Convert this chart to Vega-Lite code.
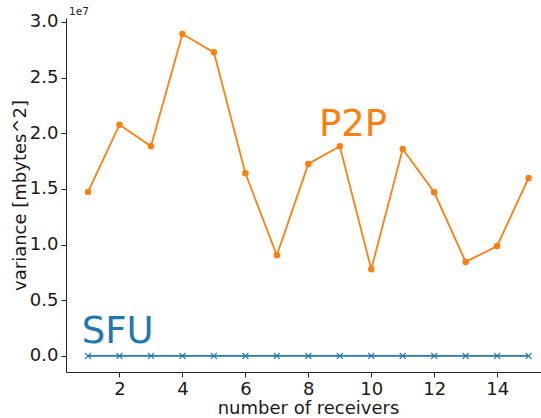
{
  "$schema": "https://vega.github.io/schema/vega-lite/v6.json",
  "width": 475,
  "height": 354,
  "autosize": {"type": "none"},
  "padding": {"left": 66, "top": 18, "right": 0, "bottom": 46},
  "background": "white",
  "config": {
    "view": {"stroke": null},
    "font": "DejaVu Sans",
    "axis": {
      "grid": false,
      "domainColor": "#222222",
      "domainWidth": 1,
      "tickColor": "#222222",
      "tickWidth": 1,
      "tickSize": 5,
      "labelColor": "#1a1a1a",
      "labelFont": "DejaVu Sans",
      "labelFontSize": 18,
      "labelPadding": 3,
      "titleFont": "DejaVu Sans",
      "titleFontSize": 18,
      "titleFontWeight": "normal",
      "titleColor": "#1a1a1a"
    }
  },
  "datasets": {
    "series": [
      {"n": 1, "variance": 14720000, "series": "P2P"},
      {"n": 2, "variance": 20760000, "series": "P2P"},
      {"n": 3, "variance": 18820000, "series": "P2P"},
      {"n": 4, "variance": 28900000, "series": "P2P"},
      {"n": 5, "variance": 27260000, "series": "P2P"},
      {"n": 6, "variance": 16400000, "series": "P2P"},
      {"n": 7, "variance": 9040000, "series": "P2P"},
      {"n": 8, "variance": 17240000, "series": "P2P"},
      {"n": 9, "variance": 18820000, "series": "P2P"},
      {"n": 10, "variance": 7780000, "series": "P2P"},
      {"n": 11, "variance": 18580000, "series": "P2P"},
      {"n": 12, "variance": 14690000, "series": "P2P"},
      {"n": 13, "variance": 8440000, "series": "P2P"},
      {"n": 14, "variance": 9870000, "series": "P2P"},
      {"n": 15, "variance": 15980000, "series": "P2P"},
      {"n": 1, "variance": 2000, "series": "SFU"},
      {"n": 2, "variance": 2000, "series": "SFU"},
      {"n": 3, "variance": 2000, "series": "SFU"},
      {"n": 4, "variance": 2000, "series": "SFU"},
      {"n": 5, "variance": 2000, "series": "SFU"},
      {"n": 6, "variance": 2000, "series": "SFU"},
      {"n": 7, "variance": 2000, "series": "SFU"},
      {"n": 8, "variance": 2000, "series": "SFU"},
      {"n": 9, "variance": 2000, "series": "SFU"},
      {"n": 10, "variance": 2000, "series": "SFU"},
      {"n": 11, "variance": 2000, "series": "SFU"},
      {"n": 12, "variance": 2000, "series": "SFU"},
      {"n": 13, "variance": 2000, "series": "SFU"},
      {"n": 14, "variance": 2000, "series": "SFU"},
      {"n": 15, "variance": 2000, "series": "SFU"}
    ],
    "labels": [
      {"label": "P2P", "n": 8.34, "variance": 19710000, "series": "P2P"},
      {"label": "SFU", "n": 0.8, "variance": 1190000, "series": "SFU"}
    ],
    "offset": [
      {"label": "1e7", "n": 0.3, "variance": 30345000}
    ]
  },
  "layer": [
    {
      "data": {"name": "series"},
      "transform": [{"filter": "datum.series === 'P2P'"}],
      "mark": {"type": "line", "color": "#ff7f0e", "strokeWidth": 1.8, "point": {"filled": true, "size": 42, "color": "#ff7f0e", "opacity": 1}},
      "encoding": {
        "x": {"field": "n", "type": "quantitative", "scale": {"domain": [0.3, 15.394], "nice": false, "zero": false},
          "axis": {"values": [2, 4, 6, 8, 10, 12, 14], "format": "d", "title": "number of receivers", "titleX": 242, "titleY": 41, "titleAlign": "center", "titleBaseline": "alphabetic"}},
        "y": {"field": "variance", "type": "quantitative", "scale": {"domain": [-1445000, 30345000], "nice": false, "zero": false},
          "axis": {"values": [0, 5000000, 10000000, 15000000, 20000000, 25000000, 30000000], "labelExpr": "format(datum.value / 10000000, '.1f')", "title": "variance [mbytes^2]", "titleX": -41, "titleY": 177, "titleAngle": 270, "titleAlign": "center", "titleBaseline": "alphabetic"}}
      }
    },
    {
      "data": {"name": "series"},
      "transform": [{"filter": "datum.series === 'SFU'"}],
      "mark": {"type": "line", "color": "#1f77b4", "strokeWidth": 1.8},
      "encoding": {
        "x": {"field": "n", "type": "quantitative"},
        "y": {"field": "variance", "type": "quantitative"}
      }
    },
    {
      "data": {"name": "series"},
      "transform": [{"filter": "datum.series === 'SFU'"}],
      "mark": {"type": "point", "shape": "M-1,-1L1,1M-1,1L1,-1", "filled": false, "size": 36, "color": "#1f77b4", "strokeWidth": 1.3, "opacity": 1},
      "encoding": {
        "x": {"field": "n", "type": "quantitative"},
        "y": {"field": "variance", "type": "quantitative"}
      }
    },
    {
      "data": {"name": "labels"},
      "mark": {"type": "text", "align": "left", "baseline": "alphabetic", "fontSize": 37, "font": "DejaVu Sans"},
      "encoding": {
        "x": {"field": "n", "type": "quantitative"},
        "y": {"field": "variance", "type": "quantitative"},
        "text": {"field": "label"},
        "color": {"field": "series", "type": "nominal", "scale": {"domain": ["P2P", "SFU"], "range": ["#ff7f0e", "#1f77b4"]}, "legend": null}
      }
    },
    {
      "data": {"name": "offset"},
      "mark": {"type": "text", "align": "left", "baseline": "alphabetic", "fontSize": 10.5, "font": "DejaVu Sans", "color": "#222222", "dx": 3, "dy": -3},
      "encoding": {
        "x": {"field": "n", "type": "quantitative"},
        "y": {"field": "variance", "type": "quantitative"},
        "text": {"field": "label"}
      }
    },
    {
      "mark": {"type": "rule", "color": "#444444", "strokeWidth": 1},
      "encoding": {"y": {"datum": 30345000}}
    }
  ]
}
